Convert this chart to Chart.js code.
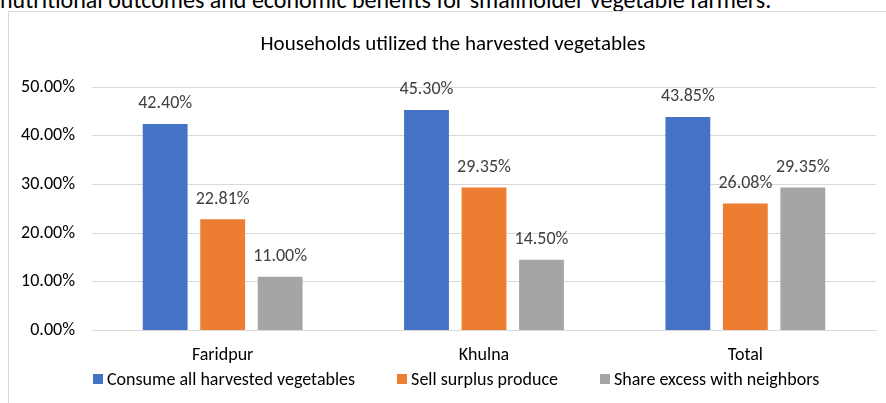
<!DOCTYPE html>
<html>
<head>
<meta charset="utf-8">
<script src="https://cdn.jsdelivr.net/npm/chart.js@4"></script>
<style>
  body { margin: 0; background: #fff; overflow: hidden; width: 886px; height: 403px; position: relative; font-family: Carlito, "Liberation Sans Narrow", "Open Sans", sans-serif; }
  #above { position: absolute; left: 0; top: -15px; font-size: 24px; color: #000; white-space: nowrap; }
  #box { position: absolute; left: 8px; top: 11px; width: 890px; height: 400px; border: 1px solid #d9d9d9; }
  #wrap { position: absolute; left: 0; top: 0; width: 878px; height: 391px; }
  #title { position: absolute; left: 0; width: 906px; top: 30px; text-align: center; font-size: 21px; color: #000; white-space: nowrap; }
  #legend { position: absolute; left: 93px; top: 368px; display: flex; align-items: center; font-size: 18px; color: #000; white-space: nowrap; }
  #legend span.item { display: flex; align-items: center; margin-right: 42px; }
  #legend span.sw { width: 10px; height: 10px; margin-right: 4px; display: inline-block; }
</style>
</head>
<body>
<div id="above">nutritional outcomes and economic benefits for smallholder vegetable farmers.</div>
<div id="box"><div id="wrap"><canvas id="mycanvas"></canvas></div></div>
<div id="title">Households utilized the harvested vegetables</div>
<div id="legend"></div>
<script>
var regions = ['Faridpur', 'Khulna', 'Total'];
var consumeAll = [42.40, 45.30, 43.85];
var sellSurplus = [22.81, 29.35, 26.08];
var shareExcess = [11.00, 14.50, 29.35];
var seriesNames = ['Consume all harvested vegetables', 'Sell surplus produce', 'Share excess with neighbors'];
var seriesColors = ['#4472C4', '#ED7D31', '#A5A5A5'];

var fontFamily = 'Carlito, "Liberation Sans Narrow", "Open Sans", sans-serif';
var textColor = '#404040';

// draws the % value above each bar
var valueLabels = {
	id: 'valueLabels',
	afterDatasetsDraw: function(chart){
		var ctx = chart.ctx;
		ctx.save();
		ctx.font = '18px ' + fontFamily;
		ctx.fillStyle = textColor;
		ctx.textAlign = 'center';
		ctx.textBaseline = 'bottom';
		chart.data.datasets.forEach(function(ds, i){
			chart.getDatasetMeta(i).data.forEach(function(bar, j){
				ctx.fillText(ds.data[j].toFixed(2) + '%', bar.x, bar.y - 11);
			});
		});
		ctx.restore();
	}
};

var chartdata = {
	labels: regions,
	datasets: [
		{ label: seriesNames[0], backgroundColor: seriesColors[0], data: consumeAll },
		{ label: seriesNames[1], backgroundColor: seriesColors[1], data: sellSurplus },
		{ label: seriesNames[2], backgroundColor: seriesColors[2], data: shareExcess }
	]
};

var ctx = document.getElementById('mycanvas');
var barGraph = new Chart(ctx, {
	type: 'bar',
	data: chartdata,
	plugins: [valueLabels],
	options: {
		responsive: true,
		maintainAspectRatio: false,
		animation: false,
		categoryPercentage: 0.66,
		barPercentage: 0.78,
		layout: { padding: { left: 0, right: 11, top: 75, bottom: 31 } },
		plugins: {
			legend: { display: false },
			title: { display: false },
			tooltip: { enabled: false }
		},
		scales: {
			x: {
				grid: { display: false },
				border: { color: '#d9d9d9' },
				ticks: { color: '#000', font: { family: fontFamily, size: 18 }, padding: 6 }
			},
			y: {
				min: 0, max: 50,
				afterFit: function(scale){ scale.width = 83; },
				grid: { color: '#d9d9d9', drawTicks: false },
				border: { display: false },
				ticks: {
					stepSize: 10, color: '#000', padding: 17,
					font: { family: fontFamily, size: 18 },
					callback: function(v){ return v.toFixed(2) + '%'; }
				}
			}
		}
	}
});

// legend as plain text under the chart
var legend = document.getElementById('legend');
barGraph.data.datasets.forEach(function(ds){
	var item = document.createElement('span');
	item.className = 'item';
	var sw = document.createElement('span');
	sw.className = 'sw';
	sw.style.background = ds.backgroundColor;
	item.appendChild(sw);
	item.appendChild(document.createTextNode(ds.label));
	legend.appendChild(item);
});
</script>
</body>
</html>
